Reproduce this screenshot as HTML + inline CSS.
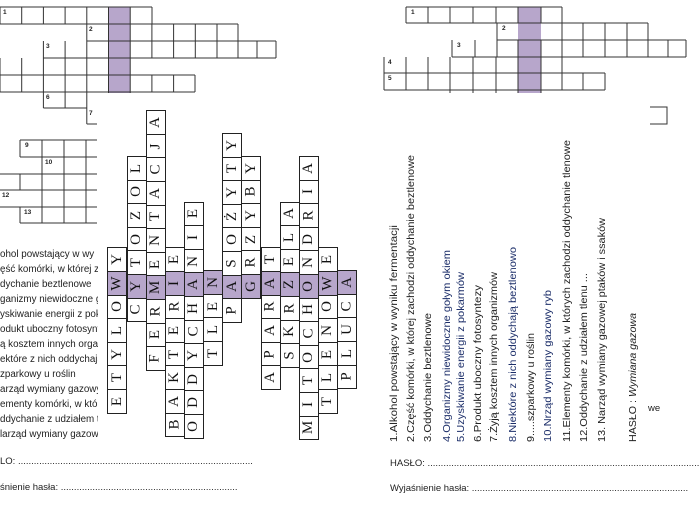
<!DOCTYPE html>
<html><head><meta charset="utf-8"><style>
html,body{margin:0;padding:0;background:#fff;}
body{width:700px;height:520px;position:relative;overflow:hidden;font-family:"Liberation Sans",sans-serif;}
svg{position:absolute;left:0;top:0;}
.col{position:absolute;width:20px;}
.col div{box-sizing:border-box;width:20px;height:24.6px;margin-top:-1px;border:1px solid #222;display:flex;align-items:center;justify-content:center;font-family:"Liberation Serif",serif;font-size:15px;color:#111;}
.col div span{display:block;transform:rotate(-90deg);}
.col div.p{background:#b7a6cb;}
.lc{position:absolute;left:0;font-size:9.8px;color:#222;white-space:nowrap;}
</style></head><body>
<svg width="700" height="520" viewBox="0 0 700 520">
<g fill="none" stroke="#333" stroke-width="1">
<rect x="108.5" y="7" width="21.7" height="86" fill="#b7a6cb" stroke="none"/>
<path d="M0 7H152M0 24H152M0 7V24M21.7 7V24M43.4 7V24M65.1 7V24M86.8 7V41M108.5 7V93M130.2 7V93M152 7V24"/>
<path d="M86.8 24H238M86.8 41H276M151.9 24V41M173.6 24V41M195.3 24V41M217 24V41M238 24V41"/>
<path d="M43.4 41V58M43.4 58H276M65.1 41V108M86.8 41V124M151.9 41V58M173.6 41V58M195.3 41V58M217 41V58M238 41V58M257 41V58M276 41V58"/>
<path d="M0 58V92M21.7 58V92M43.4 58V108M0 75H195M0 92H195M151.9 75V92M173.6 75V92M195 75V92M43.4 108H86.8M86.8 124H97"/>
<path d="M20 140H97M20 157H97M0 174H97M0 190H97M0 207H97M20 223H97M20 140V157M20 174V190M20 207V223M42 140V223M64 140V223M86 140V223"/>
<rect x="518" y="7" width="23" height="86" fill="#b7a6cb" stroke="none"/>
<path d="M406 7H562M406 23H562M406 7V23M428 7V23M450 7V23M473 7V23M496 7V23M518 7V23M541 7V23M562 7V40"/>
<path d="M497 23V40M497 40H686M497 23H648M583 23V40M605 23V40M627 23V40M648 23V40"/>
<path d="M452 40V57M452 57H686M475 40V57M497 40V57M518 40V93M541 40V93M562 40V57M583 40V57M605 40V57M627 40V57M648 40V57M668 40V57M686 40V57"/>
<path d="M384 57V90M384 73H605M384 90H605M406 57V90M428 57V90M450 57V93M473 57V93M496 57V93M562 57V90M583 73V90M605 73V90"/>
<path d="M650 107H667V124H650"/>
</g>
<g font-family="Liberation Sans,sans-serif" font-size="6.5" font-weight="bold" fill="#222">
<text x="3" y="14">1</text><text x="89" y="31">2</text><text x="46" y="48">3</text><text x="46" y="99">6</text><text x="89" y="115">7</text>
<text x="25" y="147">9</text><text x="45" y="164">10</text><text x="2" y="197">12</text><text x="24" y="214">13</text>
<text x="411" y="14">1</text><text x="502" y="30">2</text><text x="457" y="47">3</text><text x="388" y="64">4</text><text x="388" y="80">5</text>
</g>
<rect x="98" y="96" width="272" height="356" fill="#fff"/>
<g font-family="Liberation Sans,sans-serif" font-size="10" fill="#222">
<text transform="translate(397,442) rotate(-90)" textLength="217" lengthAdjust="spacingAndGlyphs">1.Alkohol powstający w wyniku fermentacji</text>
<text transform="translate(414,442) rotate(-90)" textLength="287" lengthAdjust="spacingAndGlyphs">2.Część komórki, w której zachodzi oddychanie beztlenowe</text>
<text transform="translate(431,442) rotate(-90)" textLength="129" lengthAdjust="spacingAndGlyphs">3.Oddychanie beztlenowe</text>
<text transform="translate(450,442) rotate(-90)" textLength="192" lengthAdjust="spacingAndGlyphs" fill="#1d2f6a">4.Organizmy niewidoczne gołym okiem</text>
<text transform="translate(464,442) rotate(-90)" textLength="170" lengthAdjust="spacingAndGlyphs" fill="#1d2f6a">5.Uzyskiwanie energii z pokarmów</text>
<text transform="translate(481,442) rotate(-90)" textLength="157" lengthAdjust="spacingAndGlyphs">6.Produkt uboczny fotosyntezy</text>
<text transform="translate(497,442) rotate(-90)" textLength="170" lengthAdjust="spacingAndGlyphs">7.Żyją kosztem innych organizmów</text>
<text transform="translate(516,442) rotate(-90)" textLength="195" lengthAdjust="spacingAndGlyphs" fill="#1d2f6a">8.Niektóre z nich oddychają beztlenowo</text>
<text transform="translate(534,442) rotate(-90)" textLength="109" lengthAdjust="spacingAndGlyphs">9.....szparkowy u roślin</text>
<text transform="translate(551,442) rotate(-90)" textLength="152" lengthAdjust="spacingAndGlyphs" fill="#1d2f6a">10.Nrząd wymiany gazowy ryb</text>
<text transform="translate(570,442) rotate(-90)" textLength="302" lengthAdjust="spacingAndGlyphs">11.Elementy komórki, w których zachodzi oddychanie tlenowe</text>
<text transform="translate(587,442) rotate(-90)" textLength="169" lengthAdjust="spacingAndGlyphs">12.Oddychanie z udziałem tlenu ...</text>
<text transform="translate(605,442) rotate(-90)" textLength="224" lengthAdjust="spacingAndGlyphs">13. Narząd wymiany gazowej ptaków i ssaków</text>
<text transform="translate(636,442) rotate(-90)" textLength="129" lengthAdjust="spacingAndGlyphs">HASŁO : <tspan font-style="italic">Wymiana gazowa</tspan></text>
<text x="648" y="411" font-size="9.5">we</text>
<text x="390" y="466" font-size="9.5">HASŁO: ............................................................................................................</text>
<text x="390" y="491" font-size="9.5">Wyjaśnienie hasła: ..................................................................................</text>
<text x="0" y="464" font-size="9.5">LO: .........................................................................................</text>
<text x="0" y="490" font-size="9.5">śnienie hasła: ...................................................................</text>
</g>
</svg>
<div class="lc" style="top:249px">ohol powstający w wy</div>
<div class="lc" style="top:264px">ęść komórki, w której z</div>
<div class="lc" style="top:279px">dychanie beztlenowe</div>
<div class="lc" style="top:294px">ganizmy niewidoczne g</div>
<div class="lc" style="top:309px">yskiwanie energii z pok</div>
<div class="lc" style="top:324px">odukt uboczny fotosynt</div>
<div class="lc" style="top:339px">ą kosztem innych orga</div>
<div class="lc" style="top:354px">ektóre z nich oddychają</div>
<div class="lc" style="top:369px">zparkowy u roślin</div>
<div class="lc" style="top:384px">arząd wymiany gazowy</div>
<div class="lc" style="top:399px">ementy komórki, w któ</div>
<div class="lc" style="top:414px">ddychanie z udziałem t</div>
<div class="lc" style="top:429px">larząd wymiany gazow</div>
<div style="position:absolute;left:98px;top:240px;width:8px;height:210px;background:#fff"></div>

<div class="col" style="left:107.3px;top:248.4px"><div><span>Y</span></div><div class="p"><span>W</span></div><div><span>O</span></div><div><span>L</span></div><div><span>Y</span></div><div><span>T</span></div><div><span>E</span></div></div>
<div class="col" style="left:126.5px;top:157px"><div><span>L</span></div><div><span>O</span></div><div><span>Z</span></div><div><span>O</span></div><div><span>T</span></div><div class="p"><span>Y</span></div><div><span>C</span></div></div>
<div class="col" style="left:145.6px;top:111.2px"><div><span>A</span></div><div><span>J</span></div><div><span>C</span></div><div><span>A</span></div><div><span>T</span></div><div><span>N</span></div><div><span>E</span></div><div class="p"><span>M</span></div><div><span>R</span></div><div><span>E</span></div><div><span>F</span></div></div>
<div class="col" style="left:164.8px;top:248.4px"><div><span>E</span></div><div class="p"><span>I</span></div><div><span>R</span></div><div><span>E</span></div><div><span>T</span></div><div><span>K</span></div><div><span>A</span></div><div><span>B</span></div></div>
<div class="col" style="left:183.9px;top:202.6px"><div><span>E</span></div><div><span>I</span></div><div><span>N</span></div><div class="p"><span>A</span></div><div><span>H</span></div><div><span>C</span></div><div><span>Y</span></div><div><span>D</span></div><div><span>D</span></div><div><span>O</span></div></div>
<div class="col" style="left:203.1px;top:271.3px"><div class="p"><span>N</span></div><div><span>E</span></div><div><span>L</span></div><div><span>T</span></div></div>
<div class="col" style="left:222.2px;top:134.1px"><div><span>Y</span></div><div><span>T</span></div><div><span>Y</span></div><div><span>Ż</span></div><div><span>O</span></div><div><span>S</span></div><div class="p"><span>A</span></div><div><span>P</span></div></div>
<div class="col" style="left:241.4px;top:157px"><div><span>Y</span></div><div><span>B</span></div><div><span>Y</span></div><div><span>Z</span></div><div><span>R</span></div><div class="p"><span>G</span></div></div>
<div class="col" style="left:260.5px;top:248.4px"><div><span>T</span></div><div class="p"><span>A</span></div><div><span>R</span></div><div><span>A</span></div><div><span>P</span></div><div><span>A</span></div></div>
<div class="col" style="left:279.7px;top:202.6px"><div><span>A</span></div><div><span>L</span></div><div><span>E</span></div><div class="p"><span>Z</span></div><div><span>R</span></div><div><span>K</span></div><div><span>S</span></div></div>
<div class="col" style="left:298.8px;top:157px"><div><span>A</span></div><div><span>I</span></div><div><span>R</span></div><div><span>D</span></div><div><span>N</span></div><div class="p"><span>O</span></div><div><span>H</span></div><div><span>C</span></div><div><span>O</span></div><div><span>T</span></div><div><span>I</span></div><div><span>M</span></div></div>
<div class="col" style="left:317.9px;top:248.4px"><div><span>E</span></div><div class="p"><span>W</span></div><div><span>O</span></div><div><span>N</span></div><div><span>E</span></div><div><span>L</span></div><div><span>T</span></div></div>
<div class="col" style="left:337.1px;top:271.3px"><div class="p"><span>A</span></div><div><span>C</span></div><div><span>U</span></div><div><span>L</span></div><div><span>P</span></div></div>
</body></html>
